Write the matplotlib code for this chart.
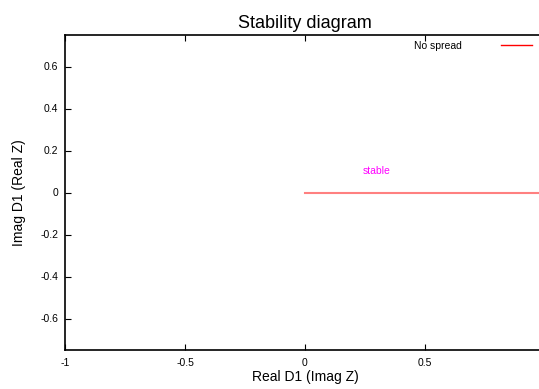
import numpy as np
import matplotlib
matplotlib.use("Agg")
from matplotlib import pyplot as plt
from matplotlib.lines import Line2D

plt.rcParams['font.family'] = ['Liberation Sans', 'DejaVu Sans']

# data
line_x = [0, 1]
line_y = [0, 0]
xticks = [-1, -0.5, 0, 0.5]
xtick_labels = ["-1", "-0.5", "0", "0.5"]
yticks = [-0.6, -0.4, -0.2, 0, 0.2, 0.4, 0.6]
ytick_labels = ["-0.6", "-0.4", "-0.2", "0", "0.2", "0.4", "0.6"]
label_pos = (0.3, 0.1)

W, H = 539, 389
fig = plt.figure(figsize=(W / 100, H / 100), dpi=100)
# axes runs past the right edge of the figure, like the original
ax = fig.add_axes([65 / W, 1 - 350 / H, (545 - 65) / W, (350 - 35) / H])

ax.plot(line_x, line_y, color='#ff8080', lw=1.5, clip_on=True)
ax.text(label_pos[0], label_pos[1], "stable", color='magenta', fontsize=7.5,
        ha='center', va='center')

ax.set_xlim(-1, 1)
ax.set_ylim(-0.75, 0.75)
ax.set_xticks(xticks)
ax.set_xticklabels(xtick_labels)
ax.set_yticks(yticks)
ax.set_yticklabels(ytick_labels)
ax.tick_params(direction='in', length=4, width=0.8, labelsize=7.5, top=True,
               right=True)
ax.tick_params(axis='x', pad=6)
ax.tick_params(axis='y', pad=5)
for s in ax.spines.values():
    s.set_linewidth(1.2)

ax.set_title("Stability diagram", fontsize=13, pad=5)
ax.set_xlabel("Real D1 (Imag Z)", fontsize=10, labelpad=1)
ax.set_ylabel("Imag D1 (Real Z)", fontsize=10, labelpad=10)

handle = Line2D([], [], color='red', lw=1)
ax.legend([handle], ["No spread"], loc='upper right', bbox_to_anchor=(535 / W, 1 - 38 / H),
          bbox_transform=fig.transFigure, frameon=False, fontsize=7.5,
          handlelength=3.0, markerfirst=False, handletextpad=3.7, borderpad=0.3,
          borderaxespad=0)

fig.savefig("out.png", dpi=100)
